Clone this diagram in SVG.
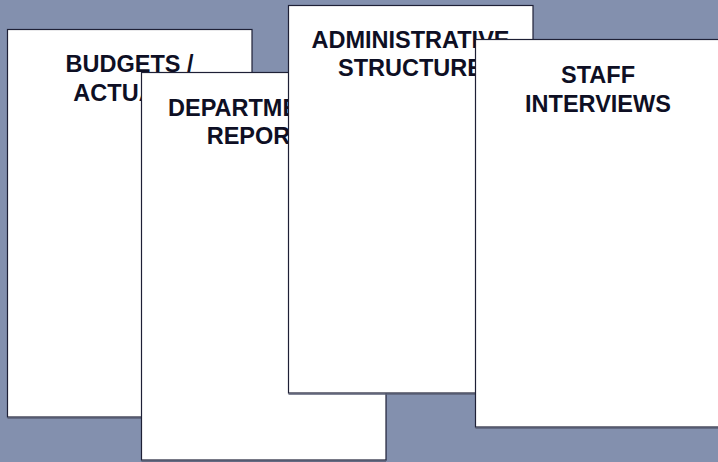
<svg xmlns="http://www.w3.org/2000/svg" width="718" height="462" viewBox="0 0 718 462">
  <style>
    .sheet { fill: #ffffff; stroke: #1e2036; stroke-width: 1.2; }
    .shade { stroke: #5a5f74; stroke-width: 1.5; }
    .label { font-family: "Liberation Sans", Arial, sans-serif; font-weight: bold; font-size: 23.5px; fill: #0e0f24; text-anchor: middle; }
  </style>
  <rect width="718" height="462" fill="#8390ae"/>

  <!-- stacked document sheets, back to front -->
  <g id="budgets">
    <rect class="sheet" x="7.5" y="29.5" width="244.5" height="387.5"/>
    <line class="shade" x1="7.5" y1="418" x2="252" y2="418"/>
    <text class="label" x="129.5" y="72.3">BUDGETS /</text>
    <text class="label" x="129.5" y="100.7">ACTUALS</text>
  </g>

  <g id="department-reports">
    <rect class="sheet" x="141.5" y="72.5" width="244.5" height="387.5"/>
    <line class="shade" x1="141.5" y1="461" x2="386" y2="461"/>
    <text class="label" x="263.5" y="115.5">DEPARTMENTAL</text>
    <text class="label" x="263.5" y="144.3">REPORTS</text>
  </g>

  <g id="administrative-structure">
    <rect class="sheet" x="288.5" y="5.5" width="244.5" height="387.5"/>
    <line class="shade" x1="288.5" y1="394" x2="533" y2="394"/>
    <text class="label" x="410.5" y="48.3">ADMINISTRATIVE</text>
    <text class="label" x="410.5" y="76">STRUCTURE</text>
  </g>

  <g id="staff-interviews">
    <rect class="sheet" x="475.5" y="39.5" width="245" height="387.5"/>
    <line class="shade" x1="475.5" y1="428" x2="720" y2="428"/>
    <text class="label" x="598" y="83.3">STAFF</text>
    <text class="label" x="598" y="111.7">INTERVIEWS</text>
  </g>

  <g id="connectors"/>
</svg>
